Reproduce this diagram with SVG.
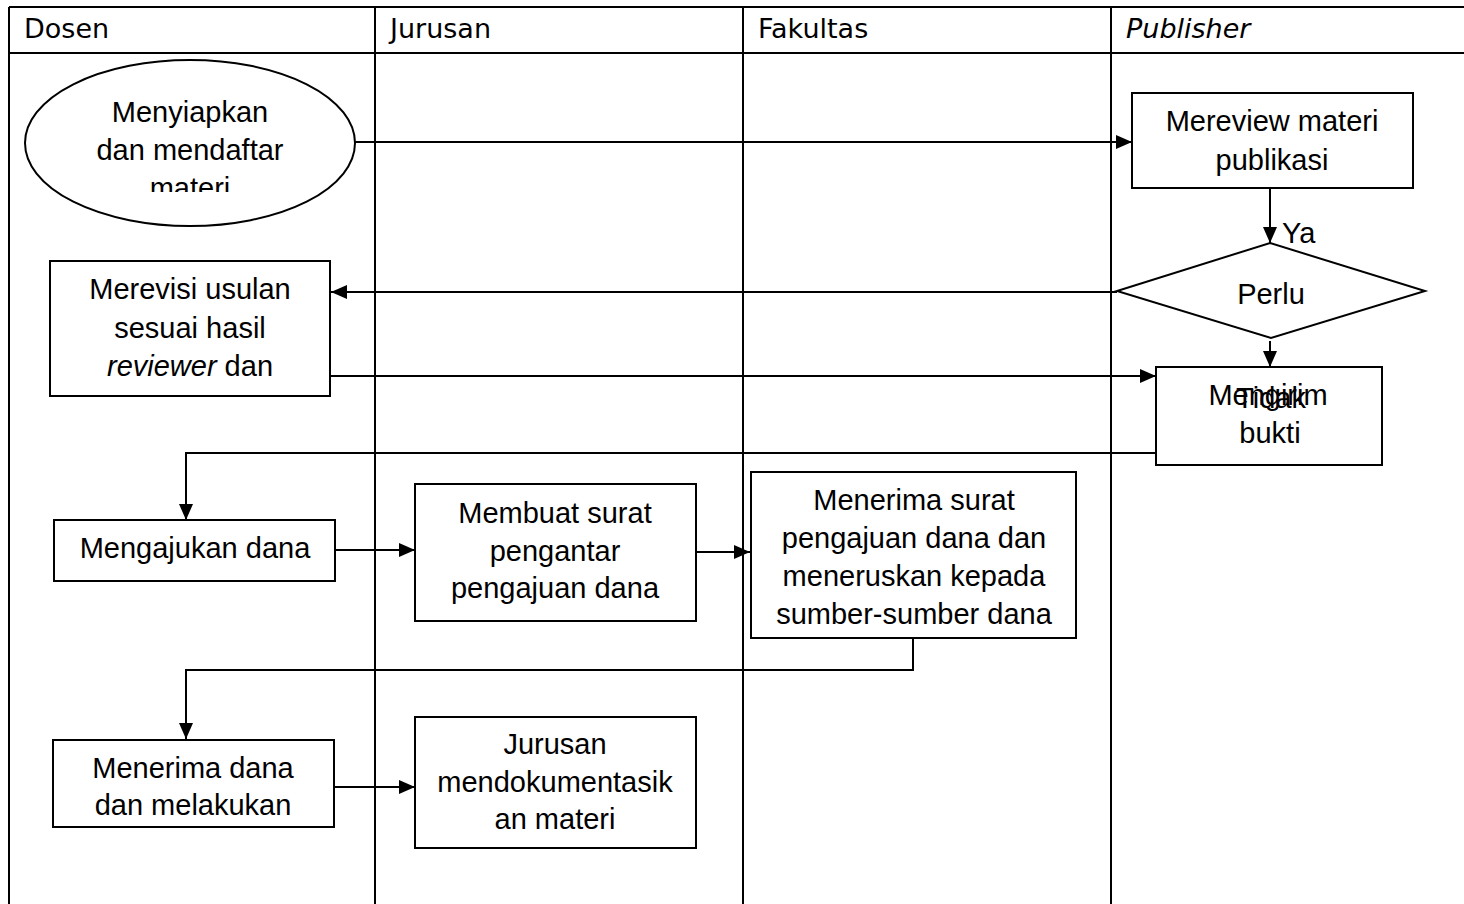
<svg xmlns="http://www.w3.org/2000/svg" width="1464" height="904" viewBox="0 0 1464 904">
<style>
.grid{stroke:#000;stroke-width:2;fill:none}
.hd{font-family:"DejaVu Sans",Verdana,sans-serif;font-size:27px;fill:#000}
.box{fill:#fff;stroke:#000;stroke-width:2}
.t{font-family:"Liberation Sans",Arial,sans-serif;font-size:29px;fill:#000;text-anchor:middle}
.lbl{font-family:"Liberation Sans",Arial,sans-serif;font-size:29px;fill:#000}
.c{stroke:#000;stroke-width:2;fill:none}
.a{marker-end:url(#arr)}
</style>
<defs>
<marker id="arr" viewBox="0 0 16 14" refX="16" refY="7" markerWidth="16" markerHeight="14" markerUnits="userSpaceOnUse" orient="auto">
<path d="M0,0 L16,7 L0,14 Z" fill="#000"/>
</marker>
<clipPath id="ellclip"><rect x="0" y="0" width="400" height="192"/></clipPath>
</defs>
<rect width="1464" height="904" fill="#fff"/>
<g id="lanes">
<path class="grid" d="M9,7 H1464 M9,53 H1464 M9,7 V904 M375,7 V904 M743,7 V904 M1111,7 V904"/>
<text class="hd" x="24" y="38">Dosen</text>
<text class="hd" x="390" y="38">Jurusan</text>
<text class="hd" x="758" y="38">Fakultas</text>
<text class="hd" x="1126" y="38" font-style="italic">Publisher</text>
</g>
<g id="connectors">
<path class="c a" d="M355,142 H1132"/>
<path class="c a" d="M1270,188 V243"/>
<path class="c a" d="M1117,292 H331"/>
<path class="c a" d="M1270,341 V367"/>
<path class="c a" d="M330,376 H1156"/>
<path class="c a" d="M1156,453 H186 V520"/>
<path class="c a" d="M335,550 H415"/>
<path class="c a" d="M696,552 H750"/>
<path class="c a" d="M913,638 V670 H186 V739"/>
<path class="c a" d="M334,787 H415"/>
</g>
<g id="n-menyiapkan">
<ellipse class="box" cx="190" cy="143" rx="165" ry="83"/>
<g clip-path="url(#ellclip)">
<text class="t" x="190" y="122">Menyiapkan</text>
<text class="t" x="190" y="160">dan mendaftar</text>
<text class="t" x="190" y="198">materi</text>
</g>
</g>
<g id="n-mereview">
<rect class="box" x="1132" y="93" width="281" height="95"/>
<text class="t" x="1272" y="131">Mereview materi</text>
<text class="t" x="1272" y="170">publikasi</text>
</g>
<g id="n-perlu">
<polygon class="box" points="1270,243 1425,291 1271,338 1117,291"/>
<text class="t" x="1271" y="304">Perlu</text>
</g>
<text class="lbl" x="1282" y="243">Ya</text>
<g id="n-merevisi">
<rect class="box" x="50" y="261" width="280" height="135"/>
<text class="t" x="190" y="299">Merevisi usulan</text>
<text class="t" x="190" y="338">sesuai hasil</text>
<text class="t" x="190" y="376"><tspan font-style="italic">reviewer</tspan> dan</text>
</g>
<g id="n-mengirim">
<rect class="box" x="1156" y="367" width="226" height="98"/>
<text class="t" x="1268" y="405">Mengirim</text>
<text class="t" x="1270" y="443">bukti</text>
</g>
<text class="t" x="1271" y="408">Tidak</text>
<g id="n-mengajukan">
<rect class="box" x="54" y="520" width="281" height="61"/>
<text class="t" x="195" y="558">Mengajukan dana</text>
</g>
<g id="n-membuat">
<rect class="box" x="415" y="484" width="281" height="137"/>
<text class="t" x="555" y="523">Membuat surat</text>
<text class="t" x="555" y="561">pengantar</text>
<text class="t" x="555" y="598">pengajuan dana</text>
</g>
<g id="n-menerima-surat">
<rect class="box" x="751" y="472" width="325" height="166"/>
<text class="t" x="914" y="510">Menerima surat</text>
<text class="t" x="914" y="548">pengajuan dana dan</text>
<text class="t" x="914" y="586">meneruskan kepada</text>
<text class="t" x="914" y="624">sumber-sumber dana</text>
</g>
<g id="n-menerima-dana">
<rect class="box" x="53" y="740" width="281" height="87"/>
<text class="t" x="193" y="778">Menerima dana</text>
<text class="t" x="193" y="815">dan melakukan</text>
</g>
<g id="n-dokumentasi">
<rect class="box" x="415" y="717" width="281" height="131"/>
<text class="t" x="555" y="754">Jurusan</text>
<text class="t" x="555" y="792">mendokumentasik</text>
<text class="t" x="555" y="829">an materi</text>
</g>
</svg>
